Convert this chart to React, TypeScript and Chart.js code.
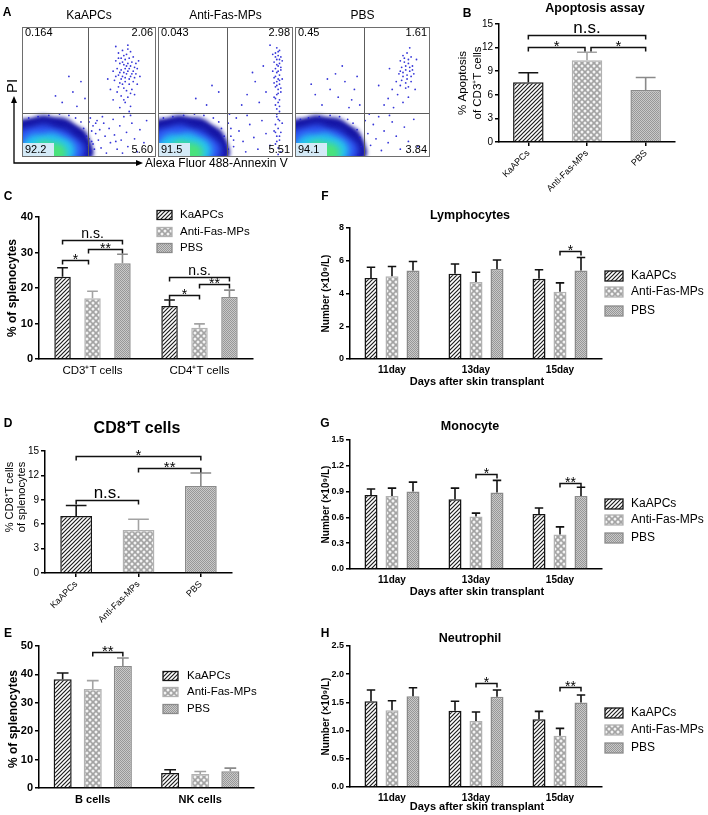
import React, { useEffect, useRef } from "react";
import { Chart, registerables } from "chart.js";

Chart.register(...registerables);

// ======================= DATA =======================
const groupNames = ["KaAPCs", "Anti-Fas-MPs", "PBS"];

// Panel A – Annexin V / PI flow cytometry (quadrant %)
const flowTitles = ["KaAPCs", "Anti-Fas-MPs", "PBS"];
const flowUL = ["0.164", "0.043", "0.45"];
const flowUR = ["2.06", "2.98", "1.61"];
const flowLL = ["92.2", "91.5", "94.1"];
const flowLR = ["5.60", "5.51", "3.84"];
const flowGateX = [49, 51, 51];
const flowGateY = [34, 34, 34];

const flowDotsKa: number[][] = [
  [72, 80], [75, 82], [78, 79], [81, 81], [74, 76], [77, 75], [80, 76], [83, 77], [70, 74], [73, 72],
  [76, 71], [79, 72], [82, 73], [85, 72], [71, 68], [74, 67], [77, 68], [80, 68], [83, 66], [86, 68],
  [72, 63], [75, 62], [78, 64], [81, 62], [84, 61], [69, 59], [73, 57], [77, 58], [80, 56], [76, 53],
  [82, 52], [71, 50], [74, 47], [79, 46], [84, 48], [68, 44], [77, 42], [81, 39], [73, 38], [66, 52],
  [88, 62], [64, 60], [86, 56], [70, 85], [79, 86],
  [76, 78], [79, 83], [72, 76], [75, 73], [78, 70], [81, 70], [84, 69], [73, 65], [76, 65], [79, 66],
  [82, 64], [74, 60], [77, 61], [80, 60], [83, 58], [72, 54], [75, 56], [78, 51], [81, 49], [70, 62],
  [85, 64], [87, 74], [68, 66], [76, 44], [80, 35],
  [51, 30], [53, 24], [55, 18], [52, 12], [54, 6], [56, 28], [58, 21], [57, 13], [59, 7], [61, 26],
  [62, 16], [63, 3], [65, 22], [66, 11], [68, 29], [69, 17], [71, 6], [73, 24], [74, 13], [76, 31],
  [78, 19], [79, 8], [82, 26], [84, 14], [86, 4], [88, 21], [91, 11], [93, 28], [60, 31], [70, 12],
  [75, 3], [81, 32], [50, 27], [52, 20], [51, 5], [53, 10], [55, 26], [50, 14],
  [30, 42], [38, 50], [44, 58], [25, 47], [41, 39], [35, 62], [47, 45],
  [46, 22], [44, 27], [40, 30], [35, 32], [28, 33], [20, 32], [12, 31], [5, 30], [48, 16], [49, 9], [47, 3],
];
const flowDotsAnti: number[][] = [
  [88, 84], [90, 82], [87, 80], [89, 78], [91, 77], [88, 75], [86, 73], [90, 72], [89, 70], [87, 68],
  [91, 67], [88, 65], [90, 63], [86, 61], [89, 60], [88, 58], [90, 56], [87, 54], [89, 52], [91, 50],
  [88, 48], [86, 46], [90, 44], [89, 42], [87, 40], [88, 37], [90, 35], [92, 74], [85, 66], [92, 60],
  [85, 79], [78, 70], [72, 58], [66, 48], [80, 50], [75, 42], [62, 40], [83, 86], [70, 65],
  [89, 81], [87, 77], [90, 75], [88, 71], [91, 69], [89, 66], [87, 62], [90, 59], [88, 55], [89, 49],
  [87, 45], [90, 39], [88, 33], [86, 57], [91, 53],
  [88, 31], [90, 28], [87, 25], [89, 22], [91, 19], [88, 16], [90, 13], [87, 10], [89, 7], [91, 4],
  [89, 29], [87, 19], [90, 16], [88, 12], [89, 2],
  [86, 20], [92, 26], [52, 26], [54, 16], [56, 8], [58, 30], [60, 20], [63, 12], [65, 4], [68, 25],
  [71, 15], [74, 6], [77, 28], [80, 18], [83, 9], [53, 33], [66, 32], [52, 6], [54, 22], [56, 13],
  [28, 45], [40, 55], [36, 40], [45, 50],
  [47, 22], [45, 27], [41, 30], [34, 32], [27, 33], [19, 32], [11, 31], [4, 30], [49, 16], [50, 9], [48, 3],
];
const flowDotsPbs: number[][] = [
  [80, 78], [83, 80], [86, 77], [78, 74], [81, 73], [84, 72], [87, 70], [79, 69], [82, 67], [85, 66],
  [88, 64], [77, 64], [80, 62], [83, 60], [86, 58], [75, 58], [78, 55], [82, 53], [72, 52], [76, 48],
  [84, 46], [69, 45], [80, 42], [66, 40], [73, 38], [62, 55], [90, 75], [85, 84], [70, 68], [89, 52],
  [81, 76], [84, 75], [82, 70], [85, 69], [80, 65], [83, 63], [86, 62], [79, 59], [82, 57], [84, 54],
  [78, 66], [87, 67],
  [52, 28], [54, 18], [56, 9], [58, 25], [60, 14], [62, 31], [64, 5], [66, 20], [69, 11], [72, 27],
  [75, 16], [78, 6], [81, 23], [84, 12], [88, 29], [91, 8], [55, 33], [70, 32],
  [20, 40], [26, 52], [32, 46], [37, 58], [42, 44], [46, 62], [30, 64], [15, 48], [40, 38], [44, 52],
  [24, 60], [35, 70], [48, 40], [12, 56],
  [46, 21], [43, 26], [39, 29], [33, 31], [26, 32], [18, 31], [10, 30], [4, 29], [48, 15], [49, 8], [47, 2],
];

// dense live-cell population, density layers [x, y, radius]
const populationDark: number[][] = [[4, 15, 19], [16, 17, 20], [28, 16, 19], [38, 12, 16], [44, 7, 11], [48, 3, 7]];
const populationBlue: number[][] = [[5, 9, 17], [16, 11, 18], [28, 9, 16], [38, 5, 12]];
const populationCyan: number[][] = [[11, 6, 15], [22, 7, 15], [31, 5, 12]];
const populationGreen: number[][] = [[17, 3, 12], [26, 3, 10]];

// Panel B – Apoptosis assay
const apoptosisMean = [7.6, 10.4, 6.6];
const apoptosisSem = [1.2, 1.0, 1.6];
const apoptosisAxis = { max: 15, step: 3 };

// Panel C – CD3+/CD4+ T cells
const tCellLabels = ["CD3⁺T cells", "CD4⁺T cells"];
const tCellKa = [23.2, 14.9];
const tCellKaErr = [2.5, 1.7];
const tCellAnti = [17.1, 8.8];
const tCellAntiErr = [2.0, 1.1];
const tCellPbs = [27.0, 17.5];
const tCellPbsErr = [2.5, 1.9];
const tCellAxis = { max: 40, step: 10 };

// Panel D – CD8+ T cells
const cd8Mean = [7.0, 5.3, 10.7];
const cd8Sem = [1.3, 1.3, 1.6];
const cd8Axis = { max: 15, step: 3 };

// Panel E – B / NK cells
const bnkLabels = ["B cells", "NK cells"];
const bnkKa = [38.3, 5.3];
const bnkKaErr = [2.2, 1.1];
const bnkAnti = [34.9, 4.9];
const bnkAntiErr = [2.9, 0.9];
const bnkPbs = [43.0, 5.9];
const bnkPbsErr = [2.8, 1.1];
const bnkAxis = { max: 50, step: 10 };

// Panels F–H – blood counts
const dayLabels = ["11day", "13day", "15day"];
const lymphKa = [4.95, 5.2, 4.9];
const lymphKaErr = [0.65, 0.6, 0.55];
const lymphAnti = [5.05, 4.7, 4.1];
const lymphAntiErr = [0.6, 0.6, 0.55];
const lymphPbs = [5.4, 5.5, 5.4];
const lymphPbsErr = [0.55, 0.55, 0.8];
const lymphAxis = { max: 8, step: 2 };

const monoKa = [0.86, 0.81, 0.64];
const monoKaErr = [0.07, 0.13, 0.07];
const monoAnti = [0.85, 0.61, 0.4];
const monoAntiErr = [0.09, 0.04, 0.09];
const monoPbs = [0.9, 0.89, 0.85];
const monoPbsErr = [0.11, 0.14, 0.1];
const monoAxis = { max: 1.5, step: 0.3 };

const neutKa = [1.52, 1.35, 1.2];
const neutKaErr = [0.2, 0.17, 0.14];
const neutAnti = [1.36, 1.17, 0.91];
const neutAntiErr = [0.17, 0.16, 0.13];
const neutPbs = [1.61, 1.6, 1.5];
const neutPbsErr = [0.15, 0.12, 0.13];
const neutAxis = { max: 2.5, step: 0.5 };

// significance brackets: a/b = [series, category], y = bracket level
const apoptosisBrackets = [
  { a: [0, 0], b: [0, 1], y: 12.1, label: "*", dx2: -2 },
  { a: [0, 1], b: [0, 2], y: 12.1, label: "*", dx1: 4 },
  { a: [0, 0], b: [0, 2], y: 13.6, label: "n.s." },
];
const tCellBrackets = [
  { a: [0, 0], b: [1, 0], y: 27.9, label: "*", dx2: -4 },
  { a: [1, 0], b: [2, 0], y: 31.0, label: "**", dx1: -4 },
  { a: [0, 0], b: [2, 0], y: 33.5, label: "n.s." },
  { a: [0, 1], b: [1, 1], y: 18.0, label: "*" },
  { a: [1, 1], b: [2, 1], y: 21.1, label: "**" },
  { a: [0, 1], b: [2, 1], y: 23.1, label: "n.s." },
];
const cd8Brackets = [
  { a: [0, 0], b: [0, 2], y: 14.4, label: "*" },
  { a: [0, 1], b: [0, 2], y: 12.9, label: "**" },
  { a: [0, 0], b: [0, 1], y: 9.0, label: "n.s." },
];
const bnkBrackets = [{ a: [1, 0], b: [2, 0], y: 47.9, label: "**" }];
const lymphBrackets = [{ a: [1, 2], b: [2, 2], y: 6.6, label: "*" }];
const monoBrackets = [
  { a: [1, 1], b: [2, 1], y: 1.1, label: "*" },
  { a: [1, 2], b: [2, 2], y: 1.0, label: "**" },
];
const neutBrackets = [
  { a: [1, 1], b: [2, 1], y: 1.84, label: "*" },
  { a: [1, 2], b: [2, 2], y: 1.77, label: "**" },
];

// ======================= LAYOUT / STYLE =======================
const CW = 708;
const CH = 815;
const FAM = "'Liberation Sans', Arial, Helvetica, sans-serif";
const flowAreas = [
  [22, 27, 156, 157],
  [158, 27, 293, 157],
  [295, 27, 430, 157],
];
const CAP_RATIO = 0.65;
const BRACKET_DROP = 4;
type Fill = "ka" | "anti" | "pbs";
const barStyles: Record<Fill, { border: string; err: string }> = {
  ka: { border: "#151515", err: "#151515" },
  anti: { border: "#b2b2b2", err: "#a3a3a3" },
  pbs: { border: "#8a8a8a", err: "#8a8a8a" },
};
const ROT = -Math.PI / 2;

function font(size: number, bold = false) {
  return `${bold ? "bold " : ""}${size}px ${FAM}`;
}

function txt(
  ctx: CanvasRenderingContext2D,
  s: string,
  x: number,
  y: number,
  size: number,
  o: { bold?: boolean; align?: CanvasTextAlign; base?: CanvasTextBaseline; rot?: number } = {}
) {
  ctx.save();
  ctx.font = font(size, o.bold);
  ctx.fillStyle = "#000";
  ctx.textAlign = o.align ?? "center";
  ctx.textBaseline = o.base ?? "middle";
  ctx.translate(x, y);
  if (o.rot) ctx.rotate(o.rot);
  ctx.fillText(s, 0, 0);
  ctx.restore();
}

function makePatterns(ctx: CanvasRenderingContext2D): Record<Fill, CanvasPattern> {
  const tile = (w: number, h: number, paint: (g: CanvasRenderingContext2D) => void) => {
    const c = document.createElement("canvas");
    c.width = w;
    c.height = h;
    const g = c.getContext("2d")!;
    paint(g);
    return ctx.createPattern(c, "repeat")!;
  };
  return {
    ka: tile(4, 4, (g) => {
      g.fillStyle = "#ffffff";
      g.fillRect(0, 0, 4, 4);
      g.strokeStyle = "#1e1e1e";
      g.lineWidth = 1.2;
      g.beginPath();
      g.moveTo(-1, 5);
      g.lineTo(5, -1);
      g.moveTo(-1, 1);
      g.lineTo(1, -1);
      g.moveTo(3, 5);
      g.lineTo(5, 3);
      g.stroke();
    }),
    anti: tile(6, 6, (g) => {
      g.fillStyle = "#a3a3a3";
      g.fillRect(0, 0, 6, 6);
      g.fillStyle = "#f3f3f3";
      for (const [x, y] of [[0, 0], [6, 0], [0, 6], [6, 6], [3, 3]]) {
        g.beginPath();
        g.arc(x, y, 1.5, 0, Math.PI * 2);
        g.fill();
      }
    }),
    pbs: tile(2, 2, (g) => {
      g.fillStyle = "#c9c9c9";
      g.fillRect(0, 0, 2, 2);
      g.fillStyle = "#979797";
      g.fillRect(0, 0, 1, 1);
      g.fillRect(1, 1, 1, 1);
    }),
  };
}

function drawLegend(
  ctx: CanvasRenderingContext2D,
  pats: Record<Fill, CanvasPattern>,
  x: number,
  ys: number[],
  size: number,
  sw: number,
  sh: number,
  gap: number
) {
  const fills: Fill[] = ["ka", "anti", "pbs"];
  fills.forEach((f, i) => {
    ctx.save();
    ctx.fillStyle = pats[f];
    ctx.fillRect(x, ys[i] - sh / 2, sw, sh);
    ctx.strokeStyle = barStyles[f].border;
    ctx.lineWidth = 1.3;
    ctx.strokeRect(x, ys[i] - sh / 2, sw, sh);
    ctx.restore();
    txt(ctx, groupNames[i], x + gap, ys[i], size, { align: "left" });
  });
}

// ---------- flow cytometry ----------
const blurPlugin = {
  id: "blurLayers",
  beforeDatasetDraw(chart: any, args: any) {
    const ds = chart.data.datasets[args.index];
    if (ds.blur) {
      chart.ctx.save();
      chart.ctx.filter = `blur(${ds.blur}px)`;
    }
  },
  afterDatasetDraw(chart: any, args: any) {
    const ds = chart.data.datasets[args.index];
    if (ds.blur) chart.ctx.restore();
  },
};

function drawAxesA(ctx: CanvasRenderingContext2D) {
  txt(ctx, "A", 7, 13, 12, { bold: true });
  txt(ctx, "PI", 13, 86, 15, { rot: ROT });
  ctx.save();
  ctx.strokeStyle = "#000";
  ctx.fillStyle = "#000";
  ctx.lineWidth = 1.3;
  ctx.beginPath();
  ctx.moveTo(14, 101);
  ctx.lineTo(14, 163);
  ctx.lineTo(137, 163);
  ctx.stroke();
  ctx.beginPath();
  ctx.moveTo(14, 96);
  ctx.lineTo(11, 103);
  ctx.lineTo(17, 103);
  ctx.closePath();
  ctx.fill();
  ctx.beginPath();
  ctx.moveTo(143, 163);
  ctx.lineTo(136, 160);
  ctx.lineTo(136, 166);
  ctx.closePath();
  ctx.fill();
  ctx.restore();
  txt(ctx, "Alexa Fluor 488-Annexin V", 145, 164, 12, { align: "left" });
}

function buildFlow(canvas: HTMLCanvasElement, i: number) {
  const [l, t, r, b] = flowAreas[i];
  const dots = [flowDotsKa, flowDotsAnti, flowDotsPbs][i];
  const xy = (a: number[][]) => a.map(([x, y]) => ({ x, y }));
  const xyr = (a: number[][]) => a.map(([x, y, rr]) => ({ x, y, r: rr }));
  const overlay = {
    id: "flowOverlay",
    afterDraw(chart: any) {
      const ctx: CanvasRenderingContext2D = chart.ctx;
      const { left, top, right, bottom } = chart.chartArea;
      const gx = Math.round(chart.scales.x.getPixelForValue(flowGateX[i])) + 0.5;
      const gy = Math.round(chart.scales.y.getPixelForValue(flowGateY[i])) + 0.5;
      ctx.save();
      ctx.strokeStyle = "#5c5c5c";
      ctx.lineWidth = 1;
      ctx.beginPath();
      ctx.moveTo(gx, top);
      ctx.lineTo(gx, bottom);
      ctx.moveTo(left, gy);
      ctx.lineTo(right, gy);
      ctx.stroke();
      ctx.strokeStyle = "#6e6e6e";
      ctx.strokeRect(left + 0.5, top + 0.5, right - left - 1, bottom - top - 1);
      ctx.fillStyle = "#d4eaf7";
      ctx.fillRect(left + 1, bottom - 14, 31, 13);
      ctx.restore();
      txt(ctx, flowUL[i], left + 3, top + 6, 11, { align: "left" });
      txt(ctx, flowUR[i], right - 3, top + 6, 11, { align: "right" });
      txt(ctx, flowLL[i], left + 3, bottom - 7, 11, { align: "left" });
      txt(ctx, flowLR[i], right - 3, bottom - 7, 11, { align: "right" });
      txt(ctx, flowTitles[i], (left + right) / 2, 16, 12);
      if (i === 0) drawAxesA(ctx);
    },
  };
  return new Chart(canvas, {
    type: "scatter",
    data: {
      datasets: [
        { type: "scatter", data: xy(dots), pointRadius: 0.9, backgroundColor: "rgba(32,32,212,0.9)", borderWidth: 0, order: 0, clip: 0 },
        { type: "bubble", data: xyr(populationGreen), backgroundColor: "#4ae27c", borderWidth: 0, order: 1, clip: 0, blur: 3 },
        { type: "bubble", data: xyr(populationCyan), backgroundColor: "#27c3ef", borderWidth: 0, order: 2, clip: 0, blur: 3 },
        { type: "bubble", data: xyr(populationBlue), backgroundColor: "#2f58f4", borderWidth: 0, order: 3, clip: 0, blur: 3 },
        { type: "bubble", data: xyr(populationDark), backgroundColor: "#1616a6", borderWidth: 0, order: 4, clip: 0, blur: 2 },
      ] as any,
    },
    options: {
      responsive: false,
      animation: false,
      events: [],
      layout: { padding: { left: l, top: t, right: CW - r, bottom: CH - b } },
      plugins: { legend: { display: false }, tooltip: { enabled: false } },
      scales: {
        x: { type: "linear", min: 0, max: 100, display: false },
        y: { type: "linear", min: 0, max: 100, display: false },
      },
    } as any,
    plugins: [blurPlugin, overlay],
  });
}

// ---------- bar panels ----------
interface Bracket { a: number[]; b: number[]; y: number; label: string; dx1?: number; dx2?: number }
interface BarPanel {
  area: number[];
  labels: string[];
  series: { values: number[]; errors: number[]; fills: Fill[] }[];
  yMax: number;
  yStep: number;
  decimals: number;
  catPct: number;
  barPct: number;
  xFont: number;
  xBold: boolean;
  xRot: number;
  xPad: number;
  xTicks: boolean;
  xBox: number;
  yFont: number;
  yBold: boolean;
  brackets: Bracket[];
  starFont: number;
  nsFont: number;
  errBlack: boolean;
  decorate: (ctx: CanvasRenderingContext2D, pats: Record<Fill, CanvasPattern>) => void;
}

function buildBar(canvas: HTMLCanvasElement, p: BarPanel) {
  const ctx = canvas.getContext("2d")!;
  const pats = makePatterns(ctx);
  const [l, t, r, b] = p.area;
  const YW = 30;
  const XH = p.xBox;
  const overlay = {
    id: "barOverlay",
    afterDatasetsDraw(chart: any) {
      const c: CanvasRenderingContext2D = chart.ctx;
      const ys = chart.scales.y;
      c.save();
      p.series.forEach((s, di) => {
        const meta = chart.getDatasetMeta(di);
        meta.data.forEach((bar: any, i: number) => {
          const { x, y, width } = bar.getProps(["x", "y", "width"], true);
          const ey = ys.getPixelForValue(s.values[i] + s.errors[i]);
          const half = (width * CAP_RATIO) / 2;
          c.strokeStyle = p.errBlack ? "#111" : barStyles[s.fills[i]].err;
          c.lineWidth = 1.6;
          c.beginPath();
          c.moveTo(x, y);
          c.lineTo(x, ey);
          c.moveTo(x - half, ey);
          c.lineTo(x + half, ey);
          c.stroke();
        });
      });
      p.brackets.forEach((br) => {
        const e1 = chart.getDatasetMeta(br.a[0]).data[br.a[1]];
        const e2 = chart.getDatasetMeta(br.b[0]).data[br.b[1]];
        const x1 = e1.x + (br.dx1 || 0);
        const x2 = e2.x + (br.dx2 || 0);
        const yy = Math.round(ys.getPixelForValue(br.y)) + 0.5;
        c.strokeStyle = "#111";
        c.lineWidth = 1.5;
        c.beginPath();
        c.moveTo(x1, yy + BRACKET_DROP);
        c.lineTo(x1, yy);
        c.lineTo(x2, yy);
        c.lineTo(x2, yy + BRACKET_DROP);
        c.stroke();
        const isNs = br.label === "n.s.";
        const f = isNs ? p.nsFont : p.starFont;
        const by = isNs ? yy - 6.5 + 0.26 * f : yy - 5 + 0.58 * f;
        txt(c, br.label, (x1 + x2) / 2, by, f, { base: "alphabetic" });
      });
      c.restore();
    },
    afterDraw(chart: any) {
      p.decorate(chart.ctx, pats);
    },
  };
  return new Chart(canvas, {
    type: "bar",
    data: {
      labels: p.labels,
      datasets: p.series.map((s) => ({
        data: s.values,
        backgroundColor: s.fills.map((f) => pats[f]),
        borderColor: s.fills.map((f) => barStyles[f].border),
        borderWidth: 1.5,
        barPercentage: p.barPct,
        categoryPercentage: p.catPct,
      })) as any,
    },
    options: {
      responsive: false,
      animation: false,
      events: [],
      layout: { padding: { left: l - YW, top: t, right: CW - r, bottom: CH - b - XH } },
      plugins: { legend: { display: false }, tooltip: { enabled: false } },
      scales: {
        x: {
          offset: true,
          grid: { display: p.xTicks, drawOnChartArea: false, drawTicks: p.xTicks, tickLength: 4, offset: false, color: "#000", lineWidth: 1.5 },
          border: { display: true, color: "#000", width: 1.5 },
          ticks: {
            color: "#000",
            font: { family: FAM, size: p.xFont, weight: p.xBold ? "bold" : "normal" },
            padding: p.xPad,
            minRotation: p.xRot,
            maxRotation: p.xRot,
            autoSkip: false,
          },
          afterFit: (s: any) => {
            s.height = XH;
            s.paddingLeft = 0;
            s.paddingRight = 0;
          },
        },
        y: {
          min: 0,
          max: p.yMax,
          ticks: {
            stepSize: p.yStep,
            autoSkip: false,
            color: "#000",
            padding: 2,
            font: { family: FAM, size: p.yFont, weight: p.yBold ? "bold" : "normal" },
            callback: (v: any) => Number(v).toFixed(p.decimals),
          },
          grid: { display: true, drawOnChartArea: false, drawTicks: true, tickLength: 4, color: "#000", lineWidth: 1.5 },
          border: { display: true, color: "#000", width: 1.5 },
          afterFit: (s: any) => {
            s.width = YW;
            s.paddingTop = 0;
            s.paddingBottom = 0;
          },
        },
      },
    } as any,
    plugins: [overlay],
  });
}

const threeFills = (f: Fill, n: number): Fill[] => Array.from({ length: n }, () => f);

const panelB: BarPanel = {
  area: [499, 24, 675, 142],
  labels: groupNames,
  series: [{ values: apoptosisMean, errors: apoptosisSem, fills: ["ka", "anti", "pbs"] }],
  yMax: apoptosisAxis.max, yStep: apoptosisAxis.step, decimals: 0,
  catPct: 1, barPct: 0.52,
  xFont: 9, xBold: false, xRot: 45, xPad: 2, xTicks: true, xBox: 60,
  yFont: 10, yBold: false,
  brackets: apoptosisBrackets, starFont: 15, nsFont: 17, errBlack: false,
  decorate: (ctx) => {
    txt(ctx, "B", 467, 14, 12, { bold: true });
    txt(ctx, "Apoptosis assay", 595, 9, 12.5, { bold: true });
    txt(ctx, "% Apoptosis", 463, 83, 11.5, { rot: ROT });
    txt(ctx, "of CD3⁺T cells", 478, 83, 11.5, { rot: ROT });
  },
};

const panelC: BarPanel = {
  area: [39, 217, 253, 359],
  labels: tCellLabels,
  series: [
    { values: tCellKa, errors: tCellKaErr, fills: threeFills("ka", 2) },
    { values: tCellAnti, errors: tCellAntiErr, fills: threeFills("anti", 2) },
    { values: tCellPbs, errors: tCellPbsErr, fills: threeFills("pbs", 2) },
  ],
  yMax: tCellAxis.max, yStep: tCellAxis.step, decimals: 0,
  catPct: 0.84, barPct: 0.55,
  xFont: 11.5, xBold: false, xRot: 0, xPad: 5, xTicks: false, xBox: 22,
  yFont: 11, yBold: true,
  brackets: tCellBrackets, starFont: 14, nsFont: 14, errBlack: false,
  decorate: (ctx, pats) => {
    txt(ctx, "C", 8, 197, 12, { bold: true });
    txt(ctx, "% of splenocytes", 13, 288, 12, { bold: true, rot: ROT });
    drawLegend(ctx, pats, 157, [215, 232, 248], 11.5, 15, 9, 23);
  },
};

const panelD: BarPanel = {
  area: [45, 451, 232, 573],
  labels: groupNames,
  series: [{ values: cd8Mean, errors: cd8Sem, fills: ["ka", "anti", "pbs"] }],
  yMax: cd8Axis.max, yStep: cd8Axis.step, decimals: 0,
  catPct: 1, barPct: 0.51,
  xFont: 9, xBold: false, xRot: 45, xPad: 2, xTicks: true, xBox: 60,
  yFont: 10, yBold: false,
  brackets: cd8Brackets, starFont: 15, nsFont: 17, errBlack: false,
  decorate: (ctx) => {
    txt(ctx, "D", 8, 424, 12, { bold: true });
    txt(ctx, "CD8⁺T cells", 137, 429, 16, { bold: true });
    txt(ctx, "% CD8⁺T cells", 10, 497, 11, { rot: ROT });
    txt(ctx, "of splenocytes", 22, 497, 11, { rot: ROT });
  },
};

const panelE: BarPanel = {
  area: [39, 646, 254, 788],
  labels: bnkLabels,
  series: [
    { values: bnkKa, errors: bnkKaErr, fills: threeFills("ka", 2) },
    { values: bnkAnti, errors: bnkAntiErr, fills: threeFills("anti", 2) },
    { values: bnkPbs, errors: bnkPbsErr, fills: threeFills("pbs", 2) },
  ],
  yMax: bnkAxis.max, yStep: bnkAxis.step, decimals: 0,
  catPct: 0.84, barPct: 0.6,
  xFont: 11, xBold: true, xRot: 0, xPad: 5, xTicks: false, xBox: 22,
  yFont: 11, yBold: true,
  brackets: bnkBrackets, starFont: 15, nsFont: 14, errBlack: false,
  decorate: (ctx, pats) => {
    txt(ctx, "E", 8, 634, 12, { bold: true });
    txt(ctx, "% of splenocytes", 14, 719, 12, { bold: true, rot: ROT });
    drawLegend(ctx, pats, 163, [676, 692, 709], 11.5, 15, 9, 24);
  },
};

function bloodPanel(
  letter: string,
  letterY: number,
  title: string,
  titleY: number,
  area: number[],
  series: BarPanel["series"],
  axis: { max: number; step: number },
  decimals: number,
  brackets: Bracket[],
  legendYs: number[],
  xTitleY: number
): BarPanel {
  return {
    area,
    labels: dayLabels,
    series,
    yMax: axis.max, yStep: axis.step, decimals,
    catPct: 0.75, barPct: 0.62,
    xFont: 10, xBold: true, xRot: 0, xPad: 5, xTicks: false, xBox: 20,
    yFont: 9, yBold: true,
    brackets, starFont: 14, nsFont: 14, errBlack: true,
    decorate: (ctx, pats) => {
      txt(ctx, letter, 325, letterY, 12, { bold: true });
      txt(ctx, title, 470, titleY, 12.5, { bold: true });
      txt(ctx, "Number (×10⁹/L)", 326, (area[1] + area[3]) / 2, 10, { bold: true, rot: ROT });
      txt(ctx, "Days after skin transplant", 477, xTitleY, 11, { bold: true });
      drawLegend(ctx, pats, 605, legendYs, 12, 18, 10, 26);
    },
  };
}

const panelF = bloodPanel("F", 197, "Lymphocytes", 216, [350, 228, 602, 359], [
  { values: lymphKa, errors: lymphKaErr, fills: threeFills("ka", 3) },
  { values: lymphAnti, errors: lymphAntiErr, fills: threeFills("anti", 3) },
  { values: lymphPbs, errors: lymphPbsErr, fills: threeFills("pbs", 3) },
], lymphAxis, 0, lymphBrackets, [276, 292, 311], 382);

const panelG = bloodPanel("G", 424, "Monocyte", 427, [350, 440, 602, 569], [
  { values: monoKa, errors: monoKaErr, fills: threeFills("ka", 3) },
  { values: monoAnti, errors: monoAntiErr, fills: threeFills("anti", 3) },
  { values: monoPbs, errors: monoPbsErr, fills: threeFills("pbs", 3) },
], monoAxis, 1, monoBrackets, [504, 520, 538], 592);

const panelH = bloodPanel("H", 634, "Neutrophil", 639, [350, 646, 602, 787], [
  { values: neutKa, errors: neutKaErr, fills: threeFills("ka", 3) },
  { values: neutAnti, errors: neutAntiErr, fills: threeFills("anti", 3) },
  { values: neutPbs, errors: neutPbsErr, fills: threeFills("pbs", 3) },
], neutAxis, 1, neutBrackets, [713, 730, 748], 807);

const builders: ((c: HTMLCanvasElement) => Chart)[] = [
  (c) => buildFlow(c, 0),
  (c) => buildFlow(c, 1),
  (c) => buildFlow(c, 2),
  (c) => buildBar(c, panelB),
  (c) => buildBar(c, panelC),
  (c) => buildBar(c, panelD),
  (c) => buildBar(c, panelE),
  (c) => buildBar(c, panelF),
  (c) => buildBar(c, panelG),
  (c) => buildBar(c, panelH),
];

function Layer({ build }: { build: (c: HTMLCanvasElement) => Chart }) {
  const ref = useRef<HTMLCanvasElement>(null);
  useEffect(() => {
    const chart = build(ref.current!);
    return () => chart.destroy();
  }, [build]);
  return (
    <canvas
      ref={ref}
      width={CW}
      height={CH}
      style={{ position: "absolute", left: 0, top: 0, width: CW, height: CH }}
    />
  );
}

export default function App() {
  return (
    <div style={{ position: "absolute", left: 0, top: 0, width: CW, height: CH, background: "#fff", overflow: "hidden" }}>
      {builders.map((b, i) => (
        <Layer key={i} build={b} />
      ))}
    </div>
  );
}
